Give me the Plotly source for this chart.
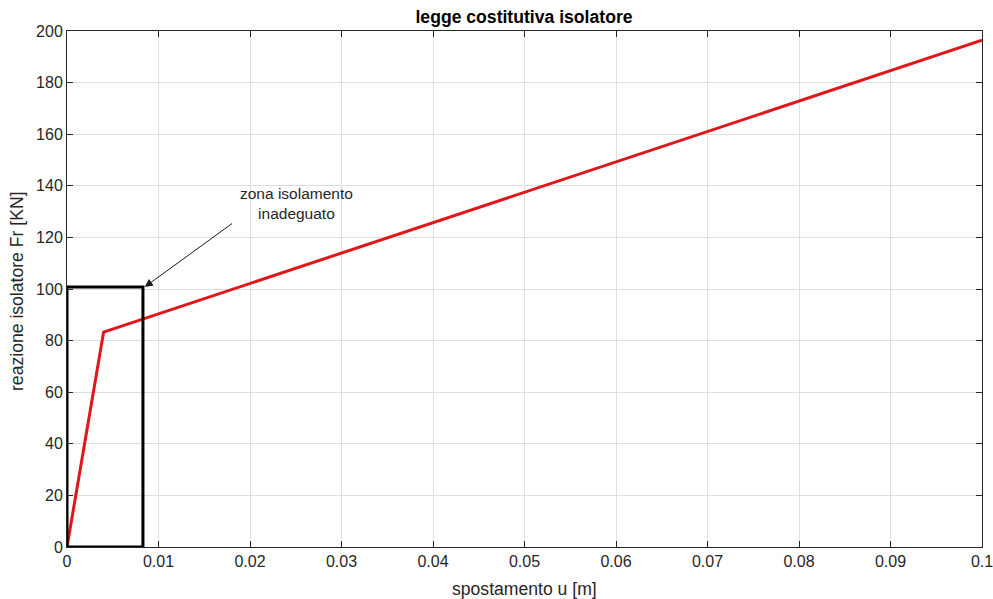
import plotly.graph_objects as go

# Constitutive law of the isolator (bilinear)
u_law = [0.0, 0.004, 0.1]
f_law = [0.0, 83.3, 196.4]

# Zone of inadequate isolation (rectangle)
box_u = [0.0, 0.0083, 0.0083, 0.0, 0.0]
box_f = [0.0, 0.0, 100.8, 100.8, 0.0]

# Annotation arrow (tail -> head) and text
arrow_tail = (0.0182, 125.8)
arrow_head = (0.0085, 100.8)
note_text = "zona isolamento<br>inadeguato"
note_pos = (0.0251, 133.0)

x_ticks = [0, 0.01, 0.02, 0.03, 0.04, 0.05, 0.06, 0.07, 0.08, 0.09, 0.1]
x_labels = ["0", "0.01", "0.02", "0.03", "0.04", "0.05", "0.06", "0.07", "0.08", "0.09", "0.1"]
y_ticks = [0, 20, 40, 60, 80, 100, 120, 140, 160, 180, 200]

font_family = "Liberation Sans, Arial, sans-serif"
txt_col = "#262626"
W, H = 993, 599
L, R, T, B = 67, 11, 31, 52
plot_w = W - L - R
plot_h = H - T - B

fig = go.Figure()
fig.add_trace(go.Scatter(x=u_law, y=f_law, mode="lines",
                         line=dict(color="#e0161b", width=3), showlegend=False))
fig.add_trace(go.Scatter(x=box_u, y=box_f, mode="lines",
                         line=dict(color="black", width=3), showlegend=False))

fig.add_annotation(x=arrow_head[0], y=arrow_head[1], ax=arrow_tail[0], ay=arrow_tail[1],
                   xref="x", yref="y", axref="x", ayref="y", text="",
                   showarrow=True, arrowhead=2, arrowsize=1.6, arrowwidth=1, arrowcolor="#1a1a1a")
fig.add_annotation(x=note_pos[0], y=note_pos[1], xref="x", yref="y", text=note_text,
                   showarrow=False, font=dict(family=font_family, size=15.5, color=txt_col),
                   align="center")

# axis titles
fig.add_annotation(x=0.5, y=-(589 - (H - B)) / plot_h, xref="paper", yref="paper",
                   text="spostamento u [m]", showarrow=False, yanchor="middle",
                   font=dict(family=font_family, size=17.6, color=txt_col))
fig.add_annotation(x=-(L - 17) / plot_w, y=(H - B - 292) / plot_h, xref="paper", yref="paper",
                   text="reazione isolatore Fr [KN]", showarrow=False, textangle=-90,
                   xanchor="center", yanchor="middle",
                   font=dict(family=font_family, size=17.6, color=txt_col))

fig.update_layout(
    width=W, height=H,
    margin=dict(l=L, r=R, t=T, b=B),
    paper_bgcolor="white", plot_bgcolor="white",
    title=dict(text="<b>legge costitutiva isolatore</b>", x=524 / W, xanchor="center",
               y=1 - 17 / H, yanchor="middle",
               font=dict(family=font_family, size=17.6, color="black")),
    font=dict(family=font_family, size=16, color=txt_col),
)
axis_common = dict(showline=True, linecolor="#262626", linewidth=1, mirror="ticks",
                   ticks="inside", ticklen=6, tickcolor="#262626", automargin=False,
                   ticklabeloverflow="allow",
                   showgrid=True, gridcolor="#dfdfdf", gridwidth=1, zeroline=False,
                   tickfont=dict(family=font_family, size=16, color=txt_col))
fig.update_xaxes(range=[0, 0.1], tickvals=x_ticks, ticktext=x_labels, **axis_common)
fig.update_yaxes(range=[0, 200], tickvals=y_ticks, **axis_common)

fig.write_html("out.html")
